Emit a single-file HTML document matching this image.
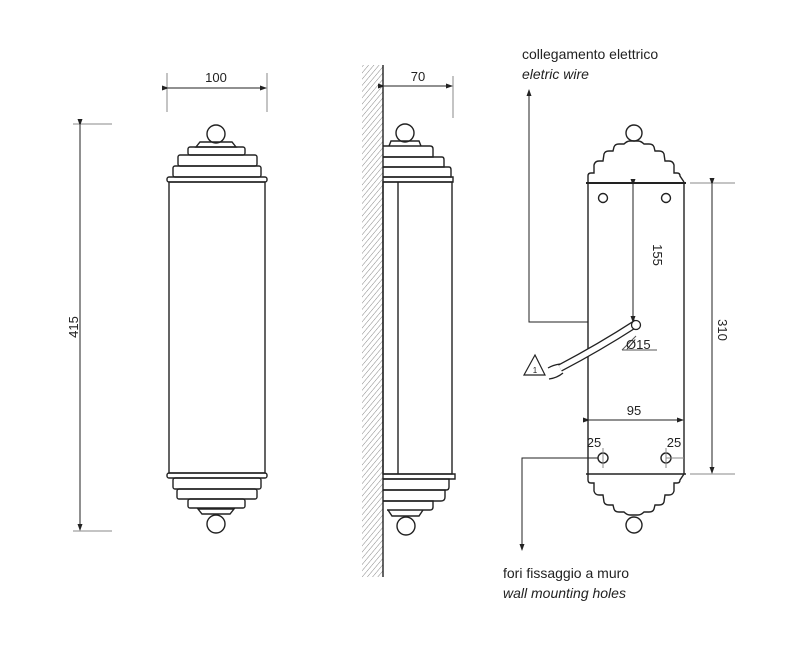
<!DOCTYPE html>
<html><head><meta charset="utf-8"><style>html,body{margin:0;padding:0;background:#fff}svg{display:block}</style></head>
<body>
<svg width="808" height="661" viewBox="0 0 808 661" xmlns="http://www.w3.org/2000/svg" font-family="Liberation Sans, sans-serif">
<defs>
<pattern id="h" width="4" height="4" patternUnits="userSpaceOnUse" patternTransform="rotate(40)"><line x1="0" y1="0" x2="0" y2="4" stroke="#888" stroke-width="1"/></pattern>
<marker id="a" markerWidth="7" markerHeight="5" refX="6" refY="2.5" orient="auto" markerUnits="userSpaceOnUse"><path d="M0,0 L7,2.5 L0,5z" fill="#222"/></marker>
</defs>
<g stroke="#222" fill="none" stroke-width="1">
<!-- FRONT VIEW -->
<line x1="167" y1="73" x2="167" y2="112" stroke="#888"/><line x1="267" y1="73" x2="267" y2="112" stroke="#888"/>
<line x1="168" y1="88" x2="266" y2="88" marker-start="url(#a)" marker-end="url(#a)"/>
<line x1="73" y1="124" x2="112" y2="124" stroke="#888"/><line x1="73" y1="531" x2="112" y2="531" stroke="#888"/>
<line x1="80" y1="125" x2="80" y2="530" marker-start="url(#a)" marker-end="url(#a)"/>
<g stroke-width="1.4">
<circle cx="216" cy="134" r="9"/>
<path d="M200,142 L232,142 L236,147 L196,147z"/>
<rect x="188" y="147" width="57" height="8" rx="2"/>
<rect x="178" y="155" width="79" height="11" rx="2"/>
<rect x="173" y="166" width="88" height="11" rx="2"/>
<rect x="167" y="177" width="100" height="5" rx="2"/>
<rect x="169" y="182" width="96" height="291"/>
<rect x="167" y="473" width="100" height="5" rx="2"/>
<rect x="173" y="478" width="88" height="11" rx="2"/>
<rect x="177" y="489" width="80" height="10" rx="2"/>
<rect x="188" y="499" width="57" height="9" rx="2"/>
<path d="M198,509 L234,509 L230,514 L202,514z"/>
<circle cx="216" cy="524" r="9"/>
</g>
<!-- SIDE VIEW -->
<rect x="362" y="65" width="21" height="512" fill="url(#h)" stroke="none"/>
<line x1="383" y1="65" x2="383" y2="577" stroke-width="1.4"/>
<line x1="453" y1="76" x2="453" y2="118" stroke="#888"/>
<line x1="384" y1="86" x2="452" y2="86" marker-start="url(#a)" marker-end="url(#a)"/>
<g stroke-width="1.4">
<circle cx="405" cy="133" r="9"/>
<path d="M389,146 L391,141 L419,141 L421,146"/>
<path d="M383,146 L430,146 Q433,146 433,149 L433,157 L383,157"/>
<path d="M383,157 L442,157 Q444,157 444,160 L444,167 L383,167"/>
<path d="M383,167 L449,167 Q451,167 451,170 L451,177 L383,177"/>
<path d="M383,177 L453,177 L453,182 L383,182"/>
<rect x="383" y="182" width="69" height="292"/>
<line x1="398" y1="182" x2="398" y2="474"/>
<path d="M383,474 L455,474 L455,479 L383,479"/>
<path d="M383,479 L449,479 L449,487 Q449,490 446,490 L383,490"/>
<path d="M383,490 L445,490 L445,497 Q445,501 441,501 L383,501"/>
<path d="M383,501 L433,501 L433,507 Q433,510 430,510 L387,510"/>
<path d="M388,510 L392,516 L419,516 L423,510"/>
<circle cx="406" cy="526" r="9"/>
</g>
<!-- BACK VIEW -->
<g stroke-width="1.4">
<circle cx="634" cy="133" r="8"/>
<path d="M588,182 L588,176 Q588,173 591,173 L594,173 L594,165 Q595,161 599,161 L603,161 L604,154 Q605,151 609,151 L613,151 L614,147 Q615,144 619,144 L624,144 Q627,141 630,141 L638,141 Q641,141 644,144 L649,144 Q653,144 654,147 L655,151 L659,151 Q663,151 664,154 L665,161 L669,161 Q673,161 674,165 L674,173 L677,173 Q680,173 680,176 L684,182"/>
<line x1="586" y1="183" x2="686" y2="183" stroke-width="2"/>
<line x1="588" y1="183" x2="588" y2="474"/><line x1="684" y1="183" x2="684" y2="474"/>
<line x1="586" y1="474" x2="686" y2="474" stroke-width="1.6"/>
<path d="M588,474 L588,480 Q588,483 591,483 L594,483 L594,491 Q595,495 599,495 L603,495 L604,502 Q605,505 609,505 L613,505 L614,509 Q615,512 619,512 L624,512 Q627,515 630,515 L638,515 Q641,515 644,512 L649,512 Q653,512 654,509 L655,505 L659,505 Q663,505 664,502 L665,495 L669,495 Q673,495 674,491 L674,483 L677,483 Q680,483 680,480 L684,474"/>
<circle cx="634" cy="525" r="8"/>
<circle cx="603" cy="198" r="4.5"/><circle cx="666" cy="198" r="4.5"/>
<circle cx="603" cy="458" r="5"/><circle cx="666" cy="458" r="5"/>
</g>
<line x1="633" y1="185" x2="633" y2="322" marker-start="url(#a)" marker-end="url(#a)"/>
<line x1="690" y1="183" x2="735" y2="183" stroke="#888"/><line x1="690" y1="474" x2="735" y2="474" stroke="#888"/>
<line x1="712" y1="184" x2="712" y2="473" marker-start="url(#a)" marker-end="url(#a)"/>
<line x1="589" y1="420" x2="683" y2="420" marker-start="url(#a)" marker-end="url(#a)"/>
<line x1="603" y1="448" x2="603" y2="468" stroke="#888"/><line x1="666" y1="448" x2="666" y2="468" stroke="#888"/>
<line x1="666" y1="458" x2="684" y2="458" stroke="#888"/>
<!-- wire -->
<path d="M637,323 Q600,347 560,368" stroke-width="8"/>
<path d="M637,323 Q600,347 560,368" stroke="#fff" stroke-width="5.4"/>
<circle cx="636" cy="325" r="4.5" fill="#fff" stroke-width="1.3"/>
<path d="M560,364 Q553,365 548,368 M563,373 Q557,378 549,379" stroke-width="1.3"/>
<path d="M535,355 L545,375 L524,375z" stroke-width="1.2"/>
<path d="M622,350 L657,350 M622,350 L636,336" stroke="#555"/>
<!-- leaders -->
<polyline points="588,322 529,322 529,90" marker-end="url(#a)"/>
<polyline points="598,458 522,458 522,550" marker-end="url(#a)"/>
</g>
<g fill="#222" font-size="13">
<text x="216" y="82" text-anchor="middle">100</text>
<text x="418" y="81" text-anchor="middle">70</text>
<text transform="translate(78,327) rotate(-90)" text-anchor="middle">415</text>
<text transform="translate(653,255) rotate(90)" text-anchor="middle">155</text>
<text transform="translate(718,330) rotate(90)" text-anchor="middle">310</text>
<text x="634" y="415" text-anchor="middle">95</text>
<text x="594" y="447" text-anchor="middle">25</text>
<text x="674" y="447" text-anchor="middle">25</text>
<text x="626" y="349">Ø15</text>
<text x="535" y="373" font-size="8" text-anchor="middle">1</text>
<text x="522" y="59" font-size="14">collegamento elettrico</text>
<text x="522" y="79" font-size="14" font-style="italic">eletric wire</text>
<text x="503" y="578" font-size="14">fori fissaggio a muro</text>
<text x="503" y="598" font-size="14" font-style="italic">wall mounting holes</text>
</g>
</svg>
</body></html>
